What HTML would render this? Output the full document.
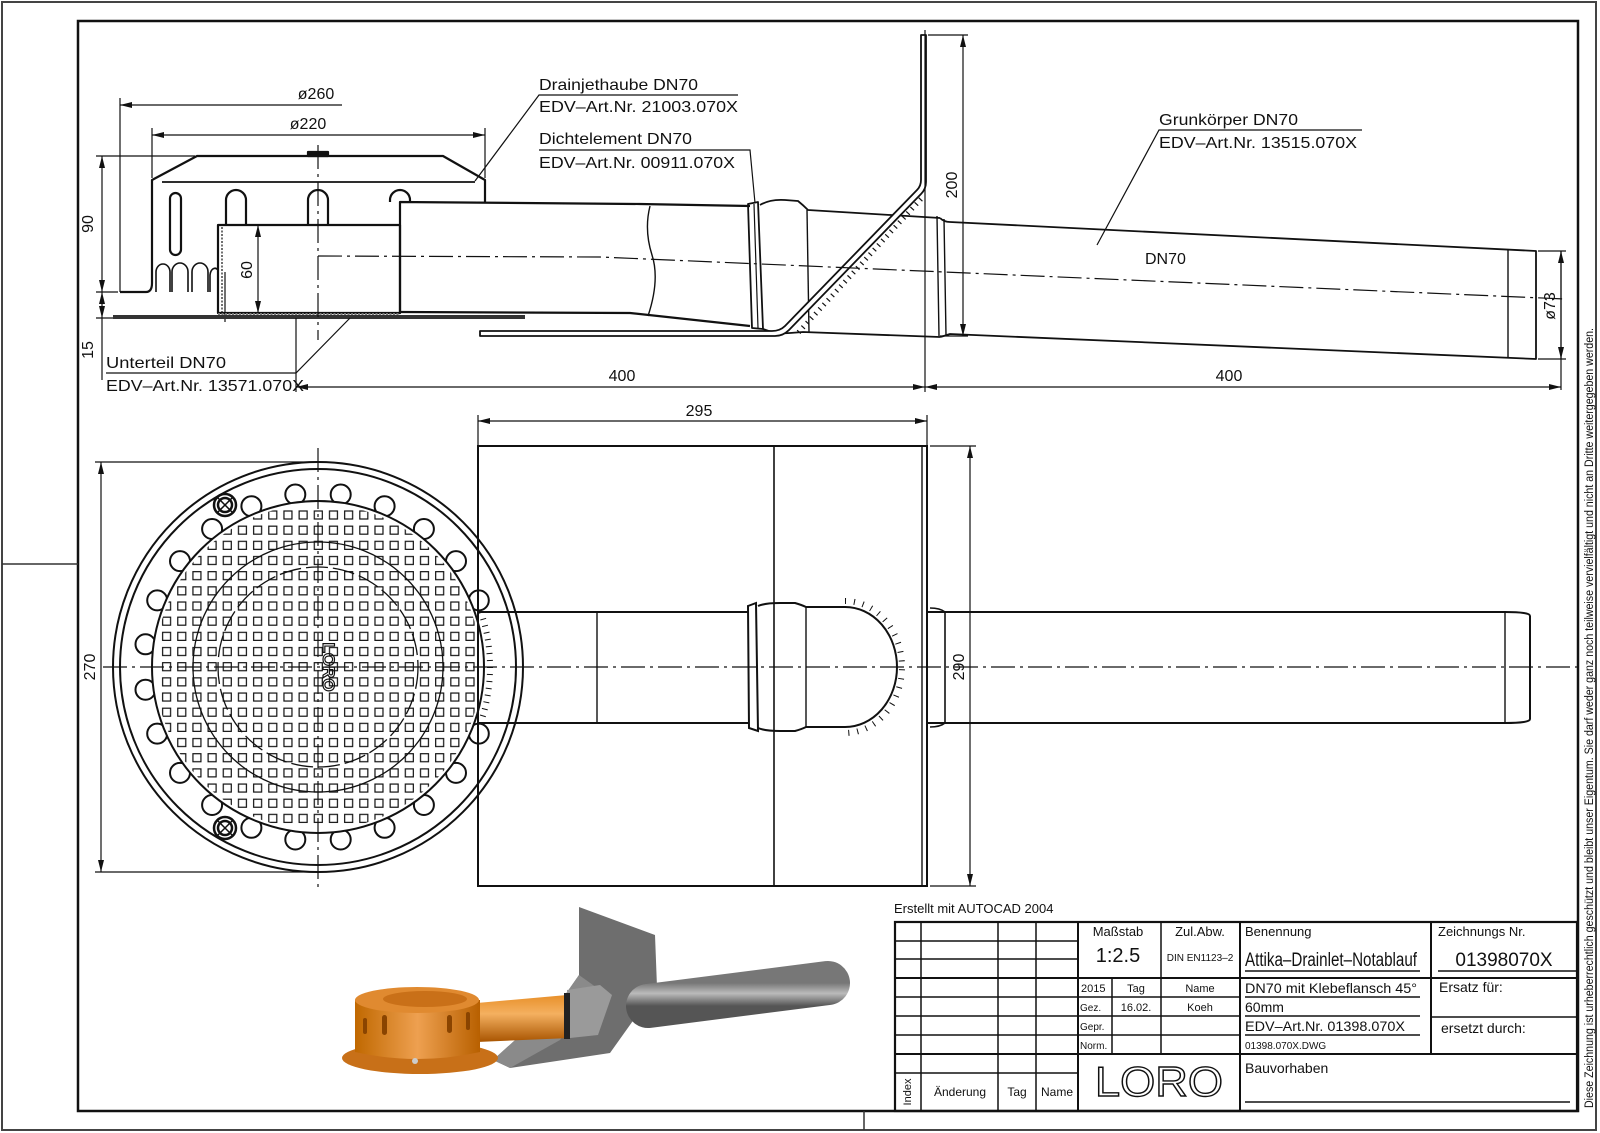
<!DOCTYPE html>
<html><head><meta charset="utf-8"><style>
html,body{margin:0;padding:0;background:#fff}
svg{display:block}
text{font-family:"Liberation Sans",sans-serif;fill:#111}
</style></head><body>
<svg width="1600" height="1133" viewBox="0 0 1600 1133" xmlns="http://www.w3.org/2000/svg">
<defs>
<marker id="a" viewBox="0 0 12 6" refX="12" refY="3" markerWidth="12" markerHeight="6" orient="auto-start-reverse" markerUnits="userSpaceOnUse"><path d="M0,0 L12,3 L0,6 z" fill="#111"/></marker>
<pattern id="grid" patternUnits="userSpaceOnUse" x="310.7" y="659.1" width="15.17" height="15.17"><rect x="3.6" y="3.6" width="8" height="8" fill="none" stroke="#111" stroke-width="1.2"/></pattern>
<clipPath id="gc"><circle cx="318" cy="667" r="163"/></clipPath>
<linearGradient id="og" x1="0" y1="0" x2="0" y2="1"><stop offset="0" stop-color="#e8902a"/><stop offset=".4" stop-color="#f4b060"/><stop offset="1" stop-color="#a85400"/></linearGradient>
<linearGradient id="oh" x1="0" y1="0" x2="1" y2="0"><stop offset="0" stop-color="#c06800"/><stop offset=".5" stop-color="#eea050"/><stop offset="1" stop-color="#b86000"/></linearGradient>
<linearGradient id="gg" x1="0" y1="0" x2="0" y2="1"><stop offset="0" stop-color="#777"/><stop offset=".45" stop-color="#bbb"/><stop offset="1" stop-color="#555"/></linearGradient>
</defs>
<rect width="1600" height="1133" fill="#fff"/>
<rect x="2" y="2" width="1594" height="1128" fill="none" stroke="#444" stroke-width="2"/>
<rect x="78" y="21" width="1500" height="1090" fill="none" stroke="#111" stroke-width="2.5"/>
<line x1="2" y1="564" x2="78" y2="564" stroke="#333" stroke-width="1.5"/>
<line x1="864" y1="1111" x2="864" y2="1130" stroke="#333" stroke-width="1.5"/>
<text transform="translate(1593,1108) rotate(-90)" font-size="11.5" textLength="780" lengthAdjust="spacingAndGlyphs">Diese Zeichnung ist urheberrechtlich geschützt und bleibt unser Eigentum. Sie darf weder ganz noch teilweise vervielfältigt und nicht an Dritte weitergegeben werden.</text>

<!-- TOP VIEW -->
<g fill="none" stroke="#111" stroke-width="2.2" stroke-linejoin="round">
<path d="M120,292 L146,292 Q152,292 152,283 L152,180 L197,156 L443,156 L485,180 L485,202"/>
<rect x="308" y="152" width="20" height="4" fill="#111"/>
<line x1="162" y1="182" x2="475" y2="182" stroke-width="1.8"/>
<rect x="170" y="193" width="11" height="62" rx="5.5"/>
<path d="M226,225 L226,200 A10,10 0 0 1 246,200 L246,225"/>
<path d="M308,225 L308,200 A10,10 0 0 1 328,200 L328,225"/>
<path d="M390,202 L390,200 A10,10 0 0 1 410,200 L410,202"/>
<path d="M156,292 L156,272 A7,8 0 0 1 170,272 L170,292 M172,292 L172,272 A8,9 0 0 1 188,272 L188,292 M192,292 L192,272 A8,9 0 0 1 208,272 L208,292 M210,292 L210,275 A5,8 0 0 1 218,270" stroke-width="1.6"/>
<rect x="218" y="225" width="182" height="88"/>
<line x1="222" y1="227" x2="222" y2="313" stroke-width="1.2" stroke-dasharray="2 1.5"/>
<line x1="225" y1="272" x2="225" y2="322" stroke-width="1.2"/>
<line x1="113" y1="317" x2="525" y2="317" stroke="#333" stroke-width="4"/>
<line x1="218" y1="314" x2="400" y2="314" stroke="#777" stroke-width="2" stroke-dasharray="2 1.5"/>
<path d="M400,313 L400,202 L640,204 L750,206"/>
<path d="M400,312 L630,313 L750,326"/>
<path d="M650,206 Q644,230 652,255 Q660,280 648,316" stroke-width="1.4"/>
<path d="M748,204 L758,202 L763,329 L752,328 Z" stroke-width="1.8"/>
<line x1="754" y1="204" x2="758" y2="328" stroke-width="1.2"/>
<path d="M760,205 Q770,199 785,200 L798,201 Q803,205 808,210 L940,218" stroke-width="1.8"/>
<path d="M763,329 Q775,334 790,333 L803,332 L940,337" stroke-width="1.8"/>
<line x1="807" y1="210" x2="809" y2="332" stroke-width="1.4"/>
<path d="M937,216 L939,336 M944,219 L946,335" stroke-width="1.4"/>
<path d="M940,218 Q944,222 950,222 L1536,251 L1536,359 L950,334 Q944,336 940,337" stroke-width="1.8"/>
<line x1="1508" y1="249" x2="1508" y2="358" stroke-width="1.4"/>
<path d="M480,331 L772,331 Q780,331 785,326 L917,190 Q921,186 921,180 L921,35 L926,35 L926,182 Q926,189 921,194 L789,330 Q783,336 775,336 L480,336 Z" fill="#fff" stroke-width="1.8"/>
<line x1="921" y1="199" x2="797" y2="334" stroke="#111" stroke-width="5" stroke-dasharray="1.2 5"/>
</g>
<g fill="none" stroke="#111" stroke-width="1.2" stroke-dasharray="24 5 3 5">
<path d="M318,256 L600,257 L1565,299"/>
<line x1="318" y1="145" x2="318" y2="340"/>
</g>
<g stroke="#111" stroke-width="1.2" fill="none">
<line x1="120" y1="98" x2="120" y2="292"/>
<line x1="120" y1="105" x2="342" y2="105" marker-start="url(#a)"/>
<line x1="152" y1="128" x2="152" y2="178"/><line x1="485" y1="128" x2="485" y2="178"/>
<line x1="152" y1="135" x2="485" y2="135" marker-start="url(#a)" marker-end="url(#a)"/>
<line x1="96" y1="156" x2="195" y2="156"/><line x1="96" y1="292" x2="118" y2="292"/><line x1="96" y1="318" x2="113" y2="318"/>
<line x1="102" y1="156" x2="102" y2="292" marker-start="url(#a)" marker-end="url(#a)"/>
<line x1="102" y1="292" x2="102" y2="318" marker-start="url(#a)" marker-end="url(#a)"/>
<line x1="102" y1="318" x2="102" y2="380"/>
<line x1="258" y1="225" x2="258" y2="313" marker-start="url(#a)" marker-end="url(#a)"/>
<line x1="928" y1="35" x2="968" y2="35"/><line x1="940" y1="336" x2="968" y2="336"/>
<line x1="963" y1="35" x2="963" y2="336" marker-start="url(#a)" marker-end="url(#a)"/>
<line x1="1538" y1="251" x2="1566" y2="251"/><line x1="1538" y1="359" x2="1566" y2="359"/>
<line x1="1561" y1="251" x2="1561" y2="390"/>
<line x1="1561" y1="251" x2="1561" y2="359" marker-start="url(#a)" marker-end="url(#a)"/>
<line x1="296" y1="318" x2="296" y2="392"/>
<line x1="925" y1="30" x2="925" y2="392"/>
<line x1="296" y1="387" x2="925" y2="387" marker-start="url(#a)" marker-end="url(#a)"/>
<line x1="925" y1="387" x2="1561" y2="387" marker-start="url(#a)" marker-end="url(#a)"/>
<polyline points="475,181 539,95 738,95"/>
<polyline points="755,203 750,150 539,150"/>
<polyline points="1097,245 1159,130 1362,130"/>
<polyline points="350,318 296,373 106,373"/>
</g>
<g font-size="16">
<text x="316" y="99" text-anchor="middle">ø260</text>
<text x="308" y="129" text-anchor="middle">ø220</text>
<text transform="translate(93,224) rotate(-90)" text-anchor="middle">90</text>
<text transform="translate(93,350) rotate(-90)" text-anchor="middle">15</text>
<text transform="translate(252,270) rotate(-90)" text-anchor="middle">60</text>
<text transform="translate(957,185) rotate(-90)" text-anchor="middle">200</text>
<text transform="translate(1555,306) rotate(-90)" text-anchor="middle">ø73</text>
<text x="622" y="381" text-anchor="middle">400</text>
<text x="1229" y="381" text-anchor="middle">400</text>
<text x="1145" y="264">DN70</text>
<text x="539" y="90" textLength="159" lengthAdjust="spacingAndGlyphs">Drainjethaube DN70</text>
<text x="539" y="112" textLength="199" lengthAdjust="spacingAndGlyphs">EDV–Art.Nr. 21003.070X</text>
<text x="539" y="144" textLength="153" lengthAdjust="spacingAndGlyphs">Dichtelement DN70</text>
<text x="539" y="168" textLength="196" lengthAdjust="spacingAndGlyphs">EDV–Art.Nr. 00911.070X</text>
<text x="1159" y="125" textLength="139" lengthAdjust="spacingAndGlyphs">Grunkörper DN70</text>
<text x="1159" y="148" textLength="198" lengthAdjust="spacingAndGlyphs">EDV–Art.Nr. 13515.070X</text>
<text x="106" y="368" textLength="120" lengthAdjust="spacingAndGlyphs">Unterteil DN70</text>
<text x="106" y="391" textLength="198" lengthAdjust="spacingAndGlyphs">EDV–Art.Nr. 13571.070X</text>
</g>

<!-- PLAN VIEW -->
<g fill="none" stroke="#111" stroke-width="2">
<circle cx="318" cy="667" r="205"/>
<circle cx="318" cy="667" r="198"/>
<g fill="#fff">
<circle cx="340.7" cy="494.5" r="10"/><circle cx="384.6" cy="506.2" r="10"/><circle cx="423.9" cy="529" r="10"/><circle cx="456" cy="561.1" r="10"/><circle cx="478.8" cy="600.4" r="10"/>
<circle cx="478.8" cy="733.6" r="10"/><circle cx="456" cy="772.9" r="10"/><circle cx="423.9" cy="805" r="10"/><circle cx="384.6" cy="827.8" r="10"/><circle cx="340.7" cy="839.5" r="10"/>
<circle cx="295.3" cy="839.5" r="10"/><circle cx="251.4" cy="827.8" r="10"/><circle cx="212.1" cy="805" r="10"/><circle cx="180" cy="772.9" r="10"/><circle cx="157.2" cy="733.6" r="10"/>
<circle cx="145.5" cy="689.7" r="10"/><circle cx="145.5" cy="644.3" r="10"/><circle cx="157.2" cy="600.4" r="10"/><circle cx="180" cy="561.1" r="10"/><circle cx="212.1" cy="529" r="10"/>
<circle cx="251.4" cy="506.2" r="10"/><circle cx="295.3" cy="494.5" r="10"/>
<circle cx="318" cy="667" r="166"/>
</g>
<rect x="160" y="509" width="316" height="316" fill="url(#grid)" stroke="none" clip-path="url(#gc)"/>
<circle cx="318" cy="667" r="125" stroke-width="1.3"/>
<circle cx="318" cy="667" r="100" stroke-width="1.3" stroke-dasharray="22 5"/>
<g stroke-width="2.5"><circle cx="225" cy="505" r="11"/><circle cx="225" cy="505" r="7"/><path d="M217,497 L233,513 M233,497 L217,513" stroke-width="1.5"/>
<circle cx="225" cy="828" r="11"/><circle cx="225" cy="828" r="7"/><path d="M217,820 L233,836 M233,820 L217,836" stroke-width="1.5"/></g>
<rect x="478" y="446" width="449" height="440"/>
<line x1="922" y1="446" x2="922" y2="886" stroke-width="1.4"/>
<line x1="774" y1="446" x2="774" y2="886" stroke-width="1.6"/>
<path d="M478,612 L748,612 M478,723 L748,723" stroke-width="2"/>
<line x1="597" y1="612" x2="597" y2="723" stroke-width="1.4"/>
<path d="M748,606 L756,603 L758,731 L749,728 Z" stroke-width="2"/>
<path d="M758,606 Q765,603 780,603 L795,603 Q802,605 806,607 L845,607 M758,728 Q765,731 780,731 L795,731 Q802,729 806,727 L845,727" stroke-width="2"/>
<line x1="806" y1="607" x2="806" y2="727" stroke-width="1.4"/>
<path d="M845,607 A52,60 0 0 1 845,727" stroke-width="2"/>
<path d="M845,601 A57,66 0 0 1 845,733" stroke-width="6" stroke-dasharray="1 8"/>
<path d="M481,612 A172,172 0 0 1 481,722" stroke-width="6" stroke-dasharray="1 6"/>
<path d="M928,612 L1505,612 Q1530,612 1530,616 L1530,719 Q1530,723 1505,723 L928,723" stroke-width="2"/>
<path d="M930,608 Q940,608 945,612 L945,723 Q940,727 930,727" stroke-width="1.6"/>
<line x1="1505" y1="612" x2="1505" y2="723" stroke-width="1.4"/>
</g>
<text transform="translate(323,667) rotate(90)" font-size="17" font-weight="bold" text-anchor="middle" style="fill:none" stroke="#111" stroke-width="1.2">LORO</text>
<g fill="none" stroke="#111" stroke-width="1.2" stroke-dasharray="24 5 3 5">
<line x1="103" y1="667" x2="1578" y2="667"/>
<line x1="318" y1="448" x2="318" y2="888"/>
</g>
<g stroke="#111" stroke-width="1.2" fill="none">
<line x1="478" y1="415" x2="478" y2="446"/><line x1="927" y1="415" x2="927" y2="446"/>
<line x1="478" y1="421" x2="927" y2="421" marker-start="url(#a)" marker-end="url(#a)"/>
<line x1="95" y1="462" x2="318" y2="462"/><line x1="95" y1="872" x2="318" y2="872"/>
<line x1="101" y1="462" x2="101" y2="872" marker-start="url(#a)" marker-end="url(#a)"/>
<line x1="930" y1="446" x2="976" y2="446"/><line x1="930" y1="886" x2="976" y2="886"/>
<line x1="970" y1="446" x2="970" y2="886" marker-start="url(#a)" marker-end="url(#a)"/>
</g>
<g font-size="16">
<text x="699" y="416" text-anchor="middle">295</text>
<text transform="translate(95,667) rotate(-90)" text-anchor="middle">270</text>
<text transform="translate(964,667) rotate(-90)" text-anchor="middle">290</text>
</g>

<!-- 3D -->
<g>
<polygon points="579,907 655,935 657,987 610,1053 510,1068 493,1060 565,995 579,975" fill="#6e6e6e"/>
<polygon points="579,975 565,995 493,1060 510,1068 560,1040 600,990" fill="#8a8a8a"/>
<line x1="648" y1="1006" x2="828" y2="983" stroke="url(#gg)" stroke-width="44" stroke-linecap="round"/>
<polygon points="567,990 600,985 612,995 598,1035 570,1038" fill="#9a9a9a"/>
<polygon points="477,1003 567,995 570,1038 477,1042" fill="url(#og)"/>
<rect x="564" y="993" width="6" height="46" fill="#222"/>
<ellipse cx="420" cy="1058" rx="78" ry="16" fill="#c87018"/>
<path d="M355,1000 L355,1052 Q417,1066 480,1052 L480,1000 Z" fill="url(#oh)"/>
<ellipse cx="417" cy="1000" rx="62" ry="13" fill="#e08a30"/>
<ellipse cx="425" cy="999" rx="42" ry="8" fill="#c97018"/>
<g fill="#8a4400"><rect x="382" y="1015" width="5" height="20" rx="2.5"/><rect x="447" y="1015" width="5" height="18" rx="2.5"/><rect x="466" y="1012" width="4" height="18" rx="2"/><rect x="363" y="1018" width="4" height="16" rx="2"/></g>
<circle cx="415" cy="1061" r="3" fill="#ccc"/>
</g>

<!-- TITLE BLOCK -->
<text x="894" y="913" font-size="13">Erstellt mit AUTOCAD 2004</text>
<g stroke="#111" fill="none">
<rect x="895" y="922" width="682" height="189" stroke-width="2.2"/>
<g stroke-width="1.5">
<line x1="921" y1="922" x2="921" y2="1111"/><line x1="998" y1="922" x2="998" y2="1111"/><line x1="1036" y1="922" x2="1036" y2="1111"/>
<line x1="1078" y1="922" x2="1078" y2="1111" stroke-width="2"/>
<line x1="1240" y1="922" x2="1240" y2="1111" stroke-width="2"/>
<line x1="1431" y1="922" x2="1431" y2="1055" stroke-width="2"/>
<line x1="1161" y1="922" x2="1161" y2="1054"/>
<line x1="1112" y1="978" x2="1112" y2="1054"/>
<line x1="895" y1="941" x2="1078" y2="941"/><line x1="895" y1="959" x2="1078" y2="959"/>
<line x1="895" y1="978" x2="1577" y2="978" stroke-width="2"/>
<line x1="895" y1="997" x2="1240" y2="997"/>
<line x1="895" y1="1016" x2="1240" y2="1016"/><line x1="1431" y1="1017" x2="1577" y2="1017"/>
<line x1="895" y1="1035" x2="1240" y2="1035"/>
<line x1="895" y1="1054" x2="1577" y2="1054" stroke-width="2"/>
<line x1="895" y1="1073" x2="1078" y2="1073"/>
<line x1="1245" y1="971" x2="1420" y2="971"/><line x1="1438" y1="971" x2="1577" y2="971"/>
<line x1="1245" y1="997" x2="1420" y2="997"/><line x1="1245" y1="1016" x2="1420" y2="1016"/><line x1="1245" y1="1035" x2="1420" y2="1035"/>
<line x1="1245" y1="1102" x2="1570" y2="1102"/>
</g>
</g>
<g font-size="13">
<text x="1118" y="936" text-anchor="middle">Maßstab</text>
<text x="1118" y="962" text-anchor="middle" font-size="20">1:2.5</text>
<text x="1200" y="936" text-anchor="middle">Zul.Abw.</text>
<text x="1200" y="961" text-anchor="middle" font-size="10">DIN EN1123–2</text>
<text x="1245" y="936">Benennung</text>
<text x="1245" y="966" font-size="19" textLength="172" lengthAdjust="spacingAndGlyphs">Attika–Drainlet–Notablauf</text>
<text x="1438" y="936">Zeichnungs Nr.</text>
<text x="1504" y="966" font-size="19" text-anchor="middle">01398070X</text>
<text x="1081" y="992" font-size="11">2015</text>
<text x="1136" y="992" font-size="11" text-anchor="middle">Tag</text>
<text x="1200" y="992" font-size="11" text-anchor="middle">Name</text>
<text x="1080" y="1011" font-size="10">Gez.</text>
<text x="1136" y="1011" font-size="11" text-anchor="middle">16.02.</text>
<text x="1200" y="1011" font-size="11" text-anchor="middle">Koeh</text>
<text x="1080" y="1030" font-size="10">Gepr.</text>
<text x="1080" y="1049" font-size="10">Norm.</text>
<text x="1245" y="993" font-size="14" textLength="172" lengthAdjust="spacingAndGlyphs">DN70 mit Klebeflansch 45°</text>
<text x="1245" y="1012" font-size="14">60mm</text>
<text x="1245" y="1031" font-size="14" textLength="160" lengthAdjust="spacingAndGlyphs">EDV–Art.Nr. 01398.070X</text>
<text x="1245" y="1049" font-size="10">01398.070X.DWG</text>
<text x="1439" y="992" font-size="14">Ersatz für:</text>
<text x="1441" y="1033" font-size="14">ersetzt durch:</text>
<text x="1245" y="1073" font-size="14">Bauvorhaben</text>
<text transform="translate(911,1092) rotate(-90)" font-size="11" text-anchor="middle">Index</text>
<text x="960" y="1096" font-size="12" text-anchor="middle">Änderung</text>
<text x="1017" y="1096" font-size="12" text-anchor="middle">Tag</text>
<text x="1057" y="1096" font-size="12" text-anchor="middle">Name</text>
</g>
<text x="1159" y="1096" font-size="42" text-anchor="middle" style="fill:none" stroke="#111" stroke-width="1.4" textLength="128" lengthAdjust="spacingAndGlyphs">LORO</text>
</svg>
</body></html>
